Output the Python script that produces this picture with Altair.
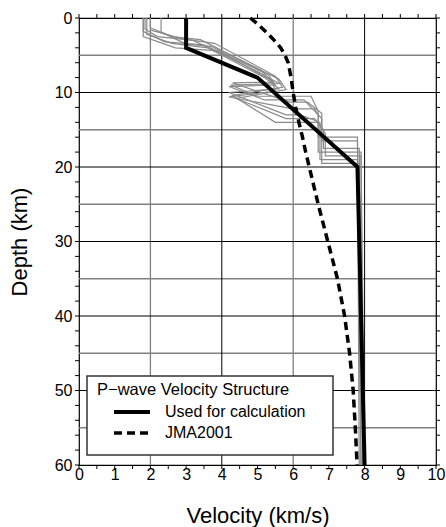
import altair as alt
import pandas as pd

FONT = "Liberation Sans"

# --- Velocity structure used for calculation (solid black) ---
calc_v = [3.0, 3.0, 5.0, 7.8, 8.0]
calc_d = [0, 4, 8, 20, 60]

# --- JMA2001 (dashed) ---
jma_d = [0, 1, 2, 3, 4, 5, 6, 8, 10, 12, 14, 16, 18, 20, 25, 30, 35, 40, 45, 50, 55, 60]
jma_v = [4.8, 5.05, 5.27, 5.47, 5.65, 5.77, 5.86, 5.94, 6.0, 6.07, 6.16, 6.26, 6.35, 6.45,
         6.7, 6.97, 7.24, 7.44, 7.58, 7.68, 7.74, 7.79]

# --- individual site profiles (grey) ---
g1_v = [1.8, 1.8, 2.4, 3.5, 5.3, 5.5, 4.2, 5.2, 6.3, 6.8, 6.8, 7.8, 7.9]
g1_d = [0, 1.8, 3.2, 3.6, 7.6, 9.0, 9.2, 11.0, 11.0, 13.5, 16.5, 16.5, 60]
g2_v = [1.85, 1.85, 2.2, 3.2, 5.0, 5.6, 4.25, 5.0, 6.5, 6.7, 6.7, 7.9, 7.95]
g2_d = [0, 1.5, 2.5, 3.0, 7.2, 8.8, 9.0, 10.5, 10.5, 12.5, 18.0, 18.0, 60]
g3_v = [1.9, 1.9, 2.6, 3.6, 5.2, 5.6, 4.2, 5.8, 6.2, 6.75, 6.75, 7.8, 7.9]
g3_d = [0, 2.2, 3.4, 4.0, 8.0, 9.5, 10.0, 13.0, 13.0, 14.0, 19.0, 19.0, 60]
g4_v = [2.0, 2.0, 2.9, 3.8, 5.5, 5.7, 4.3, 5.5, 6.7, 6.85, 6.85, 7.85, 7.95]
g4_d = [0, 1.6, 2.8, 3.4, 7.8, 9.3, 10.4, 14.0, 14.0, 15.0, 17.5, 17.5, 60]
g5_v = [2.3, 2.3, 3.0, 3.7, 5.6, 5.8, 4.4, 5.8, 6.6, 6.9, 6.9, 7.9, 8.0]
g5_d = [0, 1.9, 3.5, 3.8, 8.2, 9.6, 10.8, 13.5, 13.5, 15.5, 18.5, 18.5, 60]
g6_v = [1.8, 1.8, 2.7, 3.9, 5.4, 5.5, 4.2, 6.0, 6.6, 6.7, 6.7, 7.8, 7.85]
g6_d = [0, 2.5, 4.0, 4.4, 8.4, 9.8, 10.6, 12.2, 12.2, 13.0, 16.0, 16.0, 60]
g7_v = [2.0, 2.0, 2.6, 3.4, 5.1, 5.4, 4.3, 5.9, 6.4, 6.8, 6.8, 7.85, 7.95]
g7_d = [0, 1.3, 2.5, 2.9, 7.0, 8.6, 8.7, 11.3, 11.3, 12.8, 19.5, 19.5, 60]

legend_title = "P\u2212wave Velocity Structure"
legend_labels = ["Used for calculation", "JMA2001"]

# grid and ticks
vgrid_dark = [4, 8]
vgrid_light = [2, 6]
hgrid_dark = [10, 20, 30, 40, 50]
hgrid_light = [5, 15, 25, 35, 45, 55]
x_ticks = [0, 0.5, 1, 1.5, 2, 2.5, 3, 3.5, 4, 4.5, 5, 5.5, 6, 6.5, 7, 7.5, 8, 8.5, 9, 9.5, 10]
y_ticks = list(range(0, 61, 2))
x_labels = list(range(0, 11))
y_labels = [0, 10, 20, 30, 40, 50, 60]

W, H = 357, 447

rows = []
for name, vs, ds in [("g1", g1_v, g1_d), ("g2", g2_v, g2_d), ("g3", g3_v, g3_d),
                     ("g4", g4_v, g4_d), ("g5", g5_v, g5_d), ("g6", g6_v, g6_d),
                     ("g7", g7_v, g7_d)]:
    for i, (v, d) in enumerate(zip(vs, ds)):
        rows.append({"p": name, "i": i, "v": v, "d": d})
grey_df = pd.DataFrame(rows)
calc_df = pd.DataFrame({"v": calc_v, "d": calc_d, "i": range(len(calc_v))})
jma_df = pd.DataFrame({"v": jma_v, "d": jma_d, "i": range(len(jma_v))})

xs = alt.Scale(domain=[0, 10], nice=False, zero=False)
ys = alt.Scale(domain=[0, 60], reverse=True, nice=False, zero=False)

x_axis = alt.Axis(values=x_labels, title="Velocity (km/s)", grid=False, domain=False, ticks=False,
                  labelPadding=1, labelFont=FONT, labelFontSize=16, labelColor="black",
                  titleFont=FONT, titleFontSize=22, titleFontWeight="normal", titleColor="black",
                  titleY=57, titleBaseline="alphabetic", labelFlush=False)
y_axis = alt.Axis(values=y_labels, title="Depth (km)", grid=False, domain=False, ticks=False,
                  labelPadding=7, labelFont=FONT, labelFontSize=16, labelColor="black",
                  titleFont=FONT, titleFontSize=22, titleFontWeight="normal", titleColor="black",
                  titleX=-53, titleBaseline="alphabetic", labelFlush=False)

X = alt.X("v:Q", scale=xs, axis=x_axis)
Y = alt.Y("d:Q", scale=ys, axis=y_axis)

grey = alt.Chart(grey_df).mark_line(color="#8a8a8a", strokeWidth=1.2).encode(
    x=X, y=Y, detail="p:N", order="i:Q")

def vrules(vals, color, width):
    return alt.Chart(pd.DataFrame({"v": vals})).mark_rule(color=color, strokeWidth=width).encode(
        x=X, y=alt.value(0), y2=alt.value(H))

def hrules(vals, color, width):
    return alt.Chart(pd.DataFrame({"d": vals})).mark_rule(color=color, strokeWidth=width).encode(
        y=Y, x=alt.value(0), x2=alt.value(W))

grid = [vrules(vgrid_light, "#808080", 1.3), hrules(hgrid_light, "#808080", 1.3),
        vrules(vgrid_dark, "black", 1), hrules(hgrid_dark, "black", 1)]

jma = alt.Chart(jma_df).mark_line(color="black", strokeWidth=3.5, strokeDash=[8, 5]).encode(
    x=X, y=Y, order="i:Q")
calc = alt.Chart(calc_df).mark_line(color="black", strokeWidth=4).encode(
    x=X, y=Y, order="i:Q")

xt = pd.DataFrame({"v": x_ticks})
yt = pd.DataFrame({"d": y_ticks})
ticks = [
    alt.Chart(xt).mark_rule(color="black").encode(x=X, y=alt.value(H), y2=alt.value(H + 4)),
    alt.Chart(xt).mark_rule(color="black").encode(x=X, y=alt.value(0), y2=alt.value(-4)),
    alt.Chart(yt).mark_rule(color="black").encode(y=Y, x=alt.value(0), x2=alt.value(-4)),
    alt.Chart(yt).mark_rule(color="black").encode(y=Y, x=alt.value(W), x2=alt.value(W + 4)),
]

one = pd.DataFrame({"k": [0]})
leg_box = alt.Chart(one).mark_rect(fill="white", stroke="#333333", strokeWidth=1.5).encode(
    x=alt.value(8), x2=alt.value(254), y=alt.value(358), y2=alt.value(437))
leg_title = alt.Chart(one).mark_text(align="left", baseline="alphabetic", font=FONT, fontSize=16.5, color="black").encode(
    x=alt.value(18), y=alt.value(377), text=alt.value(legend_title))
leg_l1 = alt.Chart(one).mark_rule(color="black", strokeWidth=4).encode(
    x=alt.value(35), x2=alt.value(71), y=alt.value(394))
leg_l2 = alt.Chart(one).mark_rule(color="black", strokeWidth=3.5, strokeDash=[8, 5]).encode(
    x=alt.value(35), x2=alt.value(71), y=alt.value(415))
leg_t1 = alt.Chart(one).mark_text(align="left", baseline="middle", font=FONT, fontSize=16, color="black").encode(
    x=alt.value(86), y=alt.value(394), text=alt.value(legend_labels[0]))
leg_t2 = alt.Chart(one).mark_text(align="left", baseline="middle", font=FONT, fontSize=16, color="black").encode(
    x=alt.value(86), y=alt.value(415), text=alt.value(legend_labels[1]))

chart = alt.layer(
    *grid, grey, jma, calc, leg_box, leg_title, leg_l1, leg_l2, leg_t1, leg_t2, *ticks
).properties(
    width=W, height=H,
    padding={"left": 79, "top": 18, "right": 10, "bottom": 62},
    autosize=alt.AutoSizeParams(type="none"),
    background="white",
).configure_view(stroke="black", strokeWidth=1.2).configure_axis(
    titleFontWeight="normal", titleFont=FONT, labelFont=FONT
)

chart.save("out.html", embed_options={"renderer": "svg", "actions": False})
